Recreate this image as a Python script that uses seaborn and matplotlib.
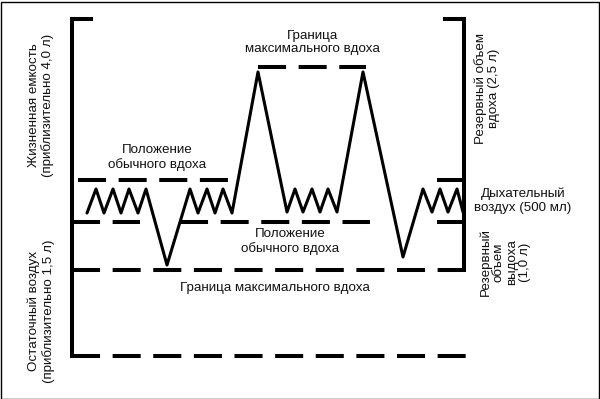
import matplotlib
matplotlib.use("Agg")
import matplotlib.pyplot as plt
import seaborn as sns
import pandas as pd
from matplotlib.patches import Rectangle

sns.set_theme(style="white")
plt.rcParams['font.family'] = ['Liberation Sans', 'DejaVu Sans']
plt.rcParams['lines.scale_dashes'] = False

# ---- data (diagram units: x = time axis, y = volume axis, drawn top-down) ----
trace_t = [87, 96, 104, 113, 121, 129, 138, 146, 167, 190, 198, 207, 215, 223, 232,
           258, 287, 295, 303, 312, 320, 328, 337, 363, 403, 423, 432, 440, 448, 457, 463]
trace_v = [213, 189, 213, 189, 213, 189, 213, 189, 265, 189, 213, 189, 213, 189, 213,
           72, 212, 189, 212, 189, 212, 189, 212, 72, 257, 189, 212, 189, 212, 189, 212]

level_max_insp = 67      # граница максимального вдоха
level_tidal_top = 180    # положение обычного вдоха
level_frc = 222          # положение обычного выдоха
level_max_exp = 270      # граница максимального выдоха
level_zero = 356         # нулевой объем

labels = {
    "max_insp": "Граница\nмаксимального вдоха",
    "tidal1": "Положение\nобычного вдоха",
    "tidal2": "Положение\nобычного вдоха",
    "max_exp": "Граница максимального вдоха",
    "tidal_air": "Дыхательный\nвоздух (500 мл)",
    "vc": "Жизненная емкость\n(приблизительно 4,0 л)",
    "rv": "Остаточный воздух\n(приблизительно 1,5 л)",
    "irv": "Резервный объем\nвдоха (2,5 л)",
    "erv": "Резервный\nобъем\nвыдоха\n(1,0 л)",
}

fig = plt.figure(figsize=(6.0, 3.99), dpi=100)
ax = fig.add_axes([0, 0, 1, 1])

dash = (20.2, 9.05)  # points
dlw = 2.9
k = 'black'

def dline(x0, x1, y):
    ax.plot([x0, x1], [y, y], color=k, lw=dlw, dashes=dash, solid_capstyle='butt',
            dash_capstyle='butt')

# dashed levels
dline(258, 366, level_max_insp)
dline(78, 229, level_tidal_top)
dline(72, 140, level_frc)
dline(180, 370, level_frc)
dline(72, 463, level_max_exp)
dline(72, 466, level_zero)

# brackets
ax.plot([93, 71.5, 71.5], [19, 19, 358], color=k, lw=dlw, solid_joinstyle='miter',
        solid_capstyle='butt')
ax.plot([443, 463.5, 463.5], [19, 19, 272], color=k, lw=dlw, solid_joinstyle='miter',
        solid_capstyle='butt')
ax.plot([437, 463.5], [level_tidal_top, level_tidal_top], color=k, lw=dlw, solid_capstyle='butt')
ax.plot([437, 463.5], [level_frc, level_frc], color=k, lw=dlw, solid_capstyle='butt')

# spirogram trace
df = pd.DataFrame({"t": trace_t, "v": trace_v})
sns.lineplot(data=df, x="t", y="v", sort=False, estimator=None, color=k, lw=2.2,
             ax=ax, legend=False)
ax.lines[-1].set_solid_joinstyle('round')
ax.lines[-1].set_solid_capstyle('round')
ax.set_xlim(0, 600)
ax.set_ylim(399, 0)
ax.axis('off')

fs = 9.6
tc = '#111111'
ax.text(312, 42.5, labels["max_insp"], ha='center', va='center', fontsize=fs, color=tc, multialignment='center')
ax.text(157, 157.5, labels["tidal1"], ha='center', va='center', fontsize=fs, color=tc, multialignment='center')
ax.text(290, 241.5, labels["tidal2"], ha='center', va='center', fontsize=fs, color=tc, multialignment='center')
ax.text(275, 288, labels["max_exp"], ha='center', va='center', fontsize=fs, color=tc)
ax.text(523, 201, labels["tidal_air"], ha='center', va='center', fontsize=fs, color=tc, multialignment='center')
ax.text(41, 105, labels["vc"], ha='center', va='center', rotation=90, fontsize=fs, color=tc, multialignment='center')
ax.text(41, 311, labels["rv"], ha='center', va='center', rotation=90, fontsize=fs, color=tc, multialignment='center')
ax.text(487, 88, labels["irv"], ha='center', va='center', rotation=90, fontsize=fs, color=tc, multialignment='center')
ax.text(505, 262, labels["erv"], ha='center', va='center', rotation=90, fontsize=fs, color=tc,
        multialignment='center', linespacing=1.12)

# frame around the picture
fig.patches.append(Rectangle((0.5/600, 0.5/399), 598/600, 397/399, transform=fig.transFigure,
                             fill=False, edgecolor='black', lw=1.0))

fig.savefig("out.png", dpi=100)
